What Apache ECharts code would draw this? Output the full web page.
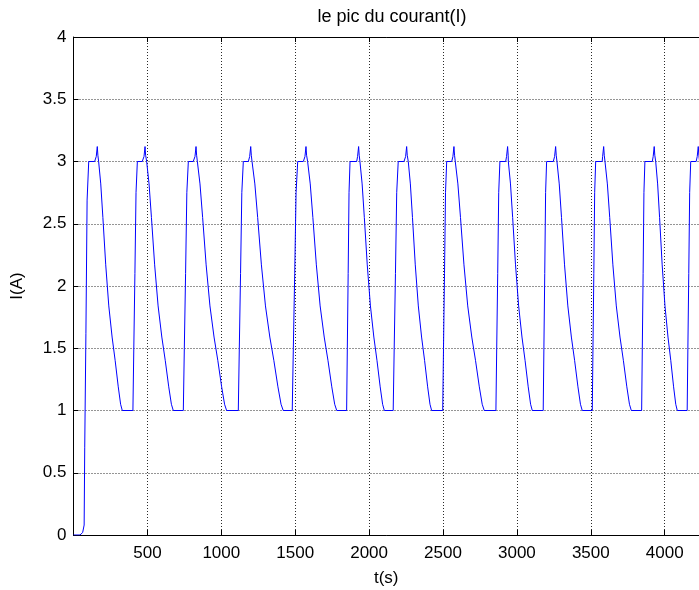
<!DOCTYPE html>
<html>
<head>
<meta charset="utf-8">
<title>le pic du courant(I)</title>
<script src="https://cdn.jsdelivr.net/npm/echarts@6/dist/echarts.min.js"></script>
<style>
  html, body { margin: 0; padding: 0; background: #fff; }
  #chart { width: 699px; height: 590px; }
</style>
</head>
<body>
<div id="chart"></div>
<script>
// Start-up transient: current climbs from 0 A to the 3 A plateau (t in s, I in A)
const startup = [[0, 0], [44, 0], [62, 0.02], [72, 0.08], [76, 0.7], [84, 1.62], [92, 2.69], [103, 3.0]];

// Key instants of each current pulse (s)
const riseStart  = [null, 402, 743, 1115, 1480, 1848, 2163, 2498, 2858, 3178, 3510, 3844, 4152];
const riseEnd    = [103, 432, 777, 1149, 1517, 1871, 2197, 2525, 2885, 3201, 3533, 3866, 4176];
const plateauEnd = [143, 465, 810, 1183, 1555, 1916, 2236, 2559, 2924, 3246, 3577, 3916, 4213];
const spikeAt    = [161, 484, 829, 1199, 1573, 1929, 2254, 2574, 2937, 3262, 3587, 3929, 4227];
const fallStart  = [170, 495, 838, 1208, 1584, 1938, 2265, 2583, 2942, 3271, 3596, 3939, 4236];
const fallEnd    = [330, 675, 1036, 1419, 1781, 2103, 2423, 2779, 3104, 3442, 3774, 4085, 4400];

// Pulse profile: share of each edge's duration and the current reached there (A)
const riseShare = [0, 0.2, 0.45, 0.7, 1];
const riseLevel = [1.0, 1.5, 2.1, 2.75, 3.0];
const fallShare = [0, 0.09, 0.18, 0.30, 0.43, 0.57, 0.70, 0.83, 0.93, 1];
const fallLevel = [3.0, 2.82, 2.55, 2.17, 1.84, 1.59, 1.40, 1.19, 1.05, 1.0];
// Overshoot at the end of the plateau: [time offset from spike (s), current (A)]
const spikeShape = [[-7, 3.04], [0, 3.12], [4, 3.05]];

// Axis ticks
const xTickStep = 500;
const yTicks = [0, 0.5, 1, 1.5, 2, 2.5, 3, 3.5, 4];

// Assemble the current waveform
const wave = startup.slice();
for (let k = 0; k < riseEnd.length; k++) {
  if (riseStart[k] !== null) {
    const d = riseEnd[k] - riseStart[k];
    for (let j = 0; j < riseShare.length; j++) {
      wave.push([riseStart[k] + riseShare[j] * d, riseLevel[j]]);
    }
  }
  wave.push([plateauEnd[k], 3.0]);
  spikeShape.forEach(function (p) { wave.push([spikeAt[k] + p[0], p[1]]); });
  const f = fallEnd[k] - fallStart[k];
  for (let j = 0; j < fallShare.length; j++) {
    wave.push([fallStart[k] + fallShare[j] * f, fallLevel[j]]);
  }
}

const FONT = '"Liberation Sans", Arial, Helvetica, sans-serif';
const chart = echarts.init(document.getElementById('chart'), null, { renderer: 'canvas' });

const gridLine = { show: true, lineStyle: { color: '#2a2a2a', width: 1, type: [1, 2] } };
const frameLine = { show: true, lineStyle: { color: '#000', width: 1 } };
const innerTick = { show: true, inside: true, length: 5, lineStyle: { color: '#000', width: 1 } };
const plain = function (v) { return String(v); };

chart.setOption({
  animation: false,
  backgroundColor: '#fff',
  title: {
    text: 'le pic du courant(I)',
    left: 387,
    top: 3,
    textAlign: 'center',
    textStyle: { fontFamily: FONT, fontSize: 18, fontWeight: 'normal', color: '#000' }
  },
  grid: { left: 73.5, right: 0, top: 37, bottom: 55, containLabel: false, outerBoundsMode: 'none' },
  xAxis: [
    {
      type: 'value', position: 'bottom', min: 0, max: 4232, interval: xTickStep,
      name: 't(s)', nameLocation: 'middle', nameGap: 35,
      nameTextStyle: { fontFamily: FONT, fontSize: 17, color: '#000' },
      axisLine: frameLine, axisTick: innerTick,
      axisLabel: { fontFamily: FONT, fontSize: 17, color: '#000', margin: 10, showMinLabel: false, showMaxLabel: false, formatter: plain },
      splitLine: gridLine
    },
    {
      type: 'value', position: 'top', min: 0, max: 4232, interval: xTickStep,
      axisLine: frameLine, axisTick: innerTick,
      axisLabel: { show: false }, splitLine: { show: false }
    }
  ],
  yAxis: {
    type: 'value', min: yTicks[0], max: yTicks[yTicks.length - 1], interval: yTicks[1] - yTicks[0],
    name: 'I(A)', nameLocation: 'middle', nameGap: 48,
    nameTextStyle: { fontFamily: FONT, fontSize: 17, color: '#000' },
    axisLine: frameLine, axisTick: innerTick,
    axisLabel: { fontFamily: FONT, fontSize: 17, color: '#000', margin: 7, formatter: plain },
    splitLine: gridLine
  },
  series: [{
    type: 'line',
    data: wave,
    showSymbol: false,
    clip: true,
    lineStyle: { color: '#0000ff', width: 1 }
  }]
});
</script>
</body>
</html>
